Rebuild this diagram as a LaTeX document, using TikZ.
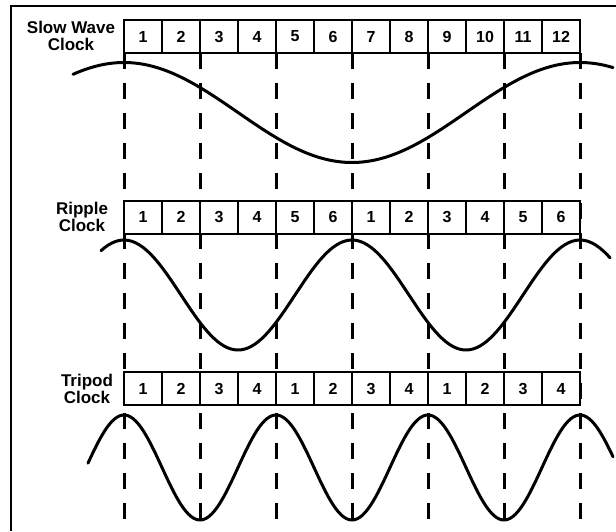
\documentclass[tikz,border=0pt]{standalone}
\usepackage{fontspec}
\setmainfont{Liberation Sans}
\usetikzlibrary{positioning,calc}
\tikzset{
    cell/.style={draw,fill=white,line width=2pt,minimum width=38pt,minimum height=33pt,
        inner sep=0pt,outer sep=0pt,font=\bfseries\fontsize{16}{16}\selectfont},
    clocklbl/.style={align=center,inner sep=0pt,font=\bfseries\fontsize{17}{17}\selectfont},
    wave/.style={line width=3pt,line cap=round,line join=round},
    guide/.style={line width=3pt,dash pattern=on 16pt off 14pt},
    frame/.style={line width=1.6pt},
}

\begin{document}
\begin{tikzpicture}[x=1pt,y=-1pt]
    \useasboundingbox (0,0) rectangle (616,531);
    \draw[frame] (11,531) -- (11,6) -- (616,6);

    % clock rows
    \foreach \lab [count=\i] in {1,2,3,4,5,6,7,8,9,10,11,12}
        \node[cell] (sw\i) at ({105+38*\i},36.5) {\lab};
    \coordinate (bot) at (0,521);

    % dashed guides every second cell
    \foreach \k in {1,3,5,7,9,11}
        \draw[guide] (sw\k.south west) -- (sw\k.south west |- bot);
    \draw[guide] (sw12.south east) -- (sw12.south east |- bot);

    \foreach \lab [count=\i] in {1,2,3,4,5,6,1,2,3,4,5,6}
        \node[cell] (rp\i) at ({105+38*\i},217) {\lab};
    \foreach \lab [count=\i] in {1,2,3,4,1,2,3,4,1,2,3,4}
        \node[cell] (tp\i) at ({105+38*\i},388.5) {\lab};

    \node[clocklbl] (swname) at (71,36) {Slow Wave\\Clock};
    \node[clocklbl] (rpname) at (82,217) {Ripple\\Clock};
    \node[clocklbl] (tpname) at (87,389) {Tripod\\Clock};

    % the three waves
    \draw[wave] plot[domain=73:613,samples=150] (\x,{112.5-50*cos((\x-124)/456*360)});
    \draw[wave] plot[domain=101:610,samples=150] (\x,{295-55*cos((\x-124)/228*360)});
    \draw[wave] plot[domain=88:613,samples=200] (\x,{467.5-52.5*cos((\x-124)/152*360)});
\end{tikzpicture}
\end{document}
